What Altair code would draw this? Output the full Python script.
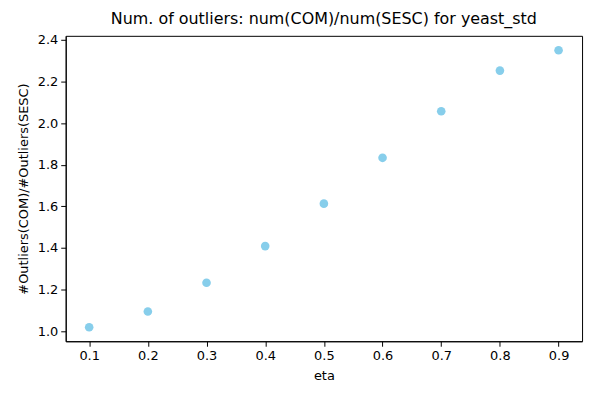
import altair as alt
import pandas as pd

eta = [0.1, 0.2, 0.3, 0.4, 0.5, 0.6, 0.7, 0.8, 0.9]
ratio = [1.019, 1.095, 1.233, 1.409, 1.613, 1.833, 2.057, 2.252, 2.350]

df = pd.DataFrame({"eta": eta, "ratio": ratio})

font = "DejaVu Sans"

chart = alt.Chart(df).mark_circle(size=75, opacity=1, color="#87CEEB").encode(
    x=alt.X("eta:Q", scale=alt.Scale(domain=[0.06, 0.94], nice=False, zero=False),
            axis=alt.Axis(values=[0.1, 0.2, 0.3, 0.4, 0.5, 0.6, 0.7, 0.8, 0.9], format=".1f",
                          title="eta", grid=False)),
    y=alt.Y("ratio:Q", scale=alt.Scale(domain=[0.952, 2.419], nice=False, zero=False),
            axis=alt.Axis(values=[1.0, 1.2, 1.4, 1.6, 1.8, 2.0, 2.2, 2.4], format=".1f",
                          title="#Outliers(COM)/#Outliers(SESC)", grid=False)),
).properties(
    width=519, height=307,
    title=alt.TitleParams("Num. of outliers: num(COM)/num(SESC) for yeast_std",
                          font=font, fontSize=16, fontWeight="normal", color="black",
                          anchor="middle", offset=7),
    autosize=alt.AutoSizeParams(type="none"),
    padding={"left": 58, "top": 27, "right": 10, "bottom": 40},
).configure_axis(
    labelFont=font, labelFontSize=13, labelColor="black",
    titleFont=font, titleFontSize=13, titleFontWeight="normal", titleColor="black",
    domainColor="black", tickColor="black", tickSize=5, labelPadding=3,
    titlePadding=7,
).configure_view(stroke="black", strokeWidth=1)

chart.save("out.html", embed_options={"renderer": "svg", "actions": False})
